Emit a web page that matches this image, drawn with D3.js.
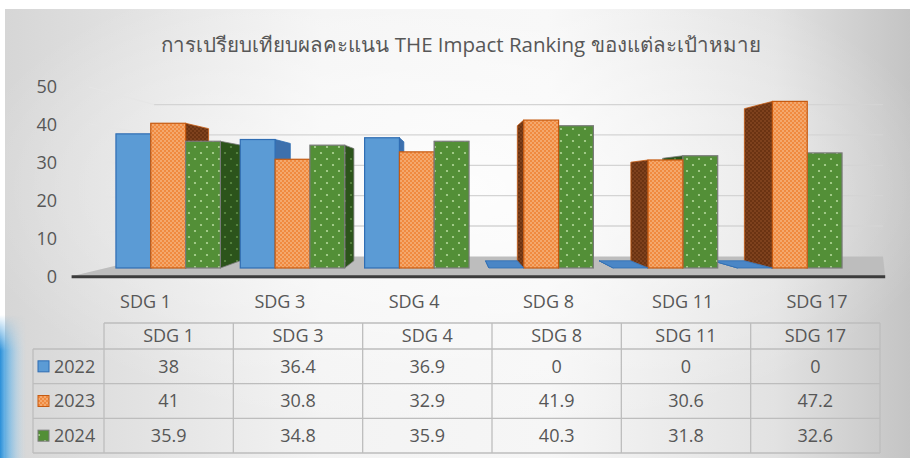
<!DOCTYPE html>
<meta charset="utf-8">
<html>
<head>
  <title>THE Impact Ranking</title>
  <style type="text/css">
    body{margin:0; background:#fff;}
    text{font-family:"Open Sans","Noto Sans",sans-serif; fill:#575757;}
  </style>
</head>
<body>
  <script src="https://cdn.jsdelivr.net/npm/d3@7"></script>
  <script>
    // data
    var categories = ['SDG 1', 'SDG 3', 'SDG 4', 'SDG 8', 'SDG 11', 'SDG 17'];
    var years = ['2022', '2023', '2024'];
    var v2022 = [38, 36.4, 36.9, 0, 0, 0];
    var v2023 = [41, 30.8, 32.9, 41.9, 30.6, 47.2];
    var v2024 = [35.9, 34.8, 35.9, 40.3, 31.8, 32.6];
    var yTicks = [0, 10, 20, 30, 40, 50];
    var title = 'การเปรียบเทียบผลคะแนน THE Impact Ranking ของแต่ละเป้าหมาย';

    var series = [v2022, v2023, v2024];

    var width = 910,
        height = 458;

    // fake 3d: everything is drawn on the front plane then pulled toward a vanishing point
    var vx = 450, vy = 185;
    var dBack = 0.087, dWall = 0.14, dFront = -0.1, dLabel = -0.08;

    function proj(px, py, d){
      return [vx + (px - vx) * (1 - d), vy + (py - vy) * (1 - d)];
    }

    var x = d3.scaleBand().domain(categories).range([106, 852]);
    var y = d3.scaleLinear().domain([0, 50]).range([268, 91.5]);
    var bw = x.bandwidth() * 0.28;

    var svg = d3.select('body')
        .append('svg')
        .attr('width', width)
        .attr('height', height);

    var defs = svg.append('defs');

    var bg = defs.append('linearGradient').attr('id', 'bg');
    bg.append('stop').attr('offset', '0%').attr('stop-color', '#d6d6d6');
    bg.append('stop').attr('offset', '35%').attr('stop-color', '#f3f3f3');
    bg.append('stop').attr('offset', '60%').attr('stop-color', '#f6f6f6');
    bg.append('stop').attr('offset', '85%').attr('stop-color', '#e2e2e2');
    bg.append('stop').attr('offset', '100%').attr('stop-color', '#c4c4c4');

    var glow = defs.append('radialGradient').attr('id', 'glow')
      .attr('cx', '50%').attr('cy', '40%').attr('r', '55%');
    glow.append('stop').attr('offset', '0%').attr('stop-color', '#fff').attr('stop-opacity', 0.8);
    glow.append('stop').attr('offset', '100%').attr('stop-color', '#fff').attr('stop-opacity', 0);

    var blueEdge = defs.append('linearGradient').attr('id', 'blueEdge');
    blueEdge.append('stop').attr('offset', '0%').attr('stop-color', '#2a8fd8').attr('stop-opacity', 1);
    blueEdge.append('stop').attr('offset', '30%').attr('stop-color', '#5fb0e6').attr('stop-opacity', 0.75);
    blueEdge.append('stop').attr('offset', '100%').attr('stop-color', '#bfe0f5').attr('stop-opacity', 0);
    var blueFade = defs.append('linearGradient').attr('id', 'blueFade')
      .attr('x1', 0).attr('y1', 0).attr('x2', 0).attr('y2', 1);
    blueFade.append('stop').attr('offset', '0%').attr('stop-color', '#fff').attr('stop-opacity', 0);
    blueFade.append('stop').attr('offset', '25%').attr('stop-color', '#fff').attr('stop-opacity', 1);
    blueFade.append('stop').attr('offset', '100%').attr('stop-color', '#fff').attr('stop-opacity', 1);
    defs.append('mask').attr('id', 'fadeMask')
      .append('rect').attr('x', 0).attr('y', 315).attr('width', 26).attr('height', 143)
      .attr('fill', 'url(#blueFade)');

    function dots(id, size, base, dot, r, pts){
      var p = defs.append('pattern').attr('id', id)
        .attr('patternUnits', 'userSpaceOnUse')
        .attr('width', size).attr('height', size);
      p.append('rect').attr('width', size).attr('height', size).attr('fill', base);
      pts.forEach(function(q){
        p.append('circle').attr('cx', q[0]).attr('cy', q[1]).attr('r', r).attr('fill', dot);
      });
    }
    dots('orFront', 4, '#f08a40', '#fbcfa6', 0.8, [[1, 1], [3, 3]]);
    dots('orSide', 4, '#6b3312', '#97532a', 0.8, [[1, 1], [3, 3]]);
    dots('grFront', 12, '#538f37', '#b2d89a', 1.1, [[3, 3], [9, 9]]);
    dots('grSide', 12, '#2c541b', '#5f8d46', 1.1, [[3, 3], [9, 9]]);

    var look = [
      {front: '#5b9bd5', side: '#3d70ad', top: '#4a86c6', stroke: '#2f6db3'},
      {front: 'url(#orFront)', side: 'url(#orSide)', top: '#e07a30', stroke: '#c55a11'},
      {front: 'url(#grFront)', side: 'url(#grSide)', top: '#3f7428', stroke: '#7a7a7a'}
    ];

    // background panel
    svg.append('rect').attr('x', 5).attr('y', 9).attr('width', width - 5).attr('height', height - 9)
      .attr('fill', 'url(#bg)');
    svg.append('rect').attr('x', 5).attr('y', 9).attr('width', width - 5).attr('height', height - 9)
      .attr('fill', 'url(#glow)');
    svg.append('rect').attr('x', 0).attr('y', 315).attr('width', 26).attr('height', 143)
      .attr('fill', 'url(#blueEdge)').attr('mask', 'url(#fadeMask)');

    svg.append('text')
      .attr('x', 461).attr('y', 45)
      .attr('dy', '0.35em')
      .attr('text-anchor', 'middle')
      .style('font-size', '20.5px')
      .text(title);

    // walls and floor
    var left = x.range()[0], right = x.range()[1];
    var wallRight = 883;
    var fl = proj(left, y(0), dFront), fr = proj(right, y(0), dFront),
        bl = proj(left, y(0), dWall);

    svg.append('polygon')
      .attr('points', [fl, [fr[0] - 7, fr[1]], [wallRight, bl[1]], bl].join(' '))
      .attr('fill', '#bdbdbd');

    // side wall lines, barely visible
    svg.selectAll('.sgrid')
      .data(yTicks.slice(1))
      .enter()
      .append('line')
      .attr('stroke', '#e6e6e6')
      .attr('stroke-width', 1)
      .attr('x1', function(d){ return proj(left, y(d), dFront + 0.05)[0]; })
      .attr('y1', function(d){ return proj(left, y(d), dFront + 0.05)[1]; })
      .attr('x2', function(d){ return proj(left, y(d), dWall)[0]; })
      .attr('y2', function(d){ return proj(left, y(d), dWall)[1]; });

    svg.selectAll('.grid')
      .data(yTicks.slice(1))
      .enter()
      .append('line')
      .attr('stroke', '#d4d4d4')
      .attr('stroke-width', 1.3)
      .attr('x1', bl[0]).attr('x2', wallRight)
      .attr('y1', function(d){ return proj(left, y(d), dWall)[1]; })
      .attr('y2', function(d){ return proj(left, y(d), dWall)[1]; });

    svg.append('line')
      .attr('x1', fl[0]).attr('y1', fl[1] + 0.5)
      .attr('x2', fr[0] - 7).attr('y2', fr[1] + 0.5)
      .attr('stroke', '#3c3c3c').attr('stroke-width', 3);

    svg.selectAll('.ylab')
      .data(yTicks)
      .enter()
      .append('text')
      .attr('x', 57)
      .attr('y', function(d){ return proj(left, y(d), dLabel)[1] + 2.5; })
      .attr('dy', '0.35em')
      .attr('text-anchor', 'end')
      .style('font-size', '18px')
      .text(function(d){ return d; });

    // bars
    var bars = [];
    categories.forEach(function(c, i){
      var x0 = x(c) + (x.bandwidth() - 3 * bw) / 2;
      series.forEach(function(s, j){
        bars.push({cat: c, s: j, v: s[i], x0: x0 + j * bw, x1: x0 + (j + 1) * bw});
      });
    });
    bars.sort(function(a, b){
      return Math.abs((b.x0 + b.x1) / 2 - vx) - Math.abs((a.x0 + a.x1) / 2 - vx);
    });

    var barG = svg.selectAll('.bar')
      .data(bars)
      .enter()
      .append('g');

    barG.each(function(d){
      var g = d3.select(this), st = look[d.s];
      var yt = y(d.v), yb = y(0);
      var ex = (d.x0 + d.x1) / 2 < vx ? d.x1 : d.x0;
      var side = [[ex, yt], proj(ex, yt, dBack), proj(ex, yb, dBack), [ex, yb]];
      g.append('polygon').attr('points', side.join(' '))
        .attr('fill', st.side).attr('stroke', st.stroke).attr('stroke-width', 0.8);
      if(yt > vy){
        var top = [[d.x0, yt], [d.x1, yt], proj(d.x1, yt, dBack), proj(d.x0, yt, dBack)];
        g.append('polygon').attr('points', top.join(' '))
          .attr('fill', st.top).attr('stroke', st.stroke).attr('stroke-width', 0.8);
      }
      if(yb - yt > 0.5){
        g.append('rect')
          .attr('x', d.x0).attr('y', yt)
          .attr('width', d.x1 - d.x0).attr('height', yb - yt)
          .attr('fill', st.front).attr('stroke', st.stroke).attr('stroke-width', 1.2);
      }
    });

    // category labels under the floor
    svg.selectAll('.xlab')
      .data(categories)
      .enter()
      .append('text')
      .attr('x', function(d){ return proj(x(d) + x.bandwidth() / 2, y(0), dLabel)[0]; })
      .attr('y', 302)
      .attr('dy', '0.35em')
      .attr('text-anchor', 'middle')
      .style('font-size', '18px')
      .text(function(d){ return d; });

    // data table
    var col = d3.scaleBand().domain(categories).range([104, 880]);
    var row = d3.scaleBand().domain(years).range([349, 453]);
    var headTop = 323, legLeft = 33;
    var tg = svg.append('g').attr('stroke', '#bdbdbd').attr('stroke-width', 1.3);

    tg.append('line').attr('x1', col.range()[0]).attr('x2', col.range()[1])
      .attr('y1', headTop).attr('y2', headTop);
    tg.selectAll('.hl')
      .data(years.concat(['end']))
      .enter()
      .append('line')
      .attr('x1', legLeft).attr('x2', col.range()[1])
      .attr('y1', function(d){ return d == 'end' ? row.range()[1] : row(d); })
      .attr('y2', function(d){ return d == 'end' ? row.range()[1] : row(d); });
    tg.selectAll('.vl')
      .data(categories.concat(['end']))
      .enter()
      .append('line')
      .attr('x1', function(d){ return d == 'end' ? col.range()[1] : col(d); })
      .attr('x2', function(d){ return d == 'end' ? col.range()[1] : col(d); })
      .attr('y1', headTop).attr('y2', row.range()[1]);
    tg.append('line').attr('x1', legLeft).attr('x2', legLeft)
      .attr('y1', row.range()[0]).attr('y2', row.range()[1]);

    svg.selectAll('.head')
      .data(categories)
      .enter()
      .append('text')
      .attr('x', function(d){ return col(d) + col.bandwidth() / 2; })
      .attr('y', (headTop + row.range()[0]) / 2)
      .attr('dy', '0.35em')
      .attr('text-anchor', 'middle')
      .style('font-size', '18px')
      .text(function(d){ return d; });

    years.forEach(function(yr, j){
      var cy = row(yr) + row.bandwidth() / 2;
      svg.append('rect')
        .attr('x', 38).attr('y', cy - 5.5).attr('width', 11).attr('height', 11)
        .attr('fill', look[j].front).attr('stroke', look[j].stroke).attr('stroke-width', 1);
      svg.append('text')
        .attr('x', 54).attr('y', cy).attr('dy', '0.35em')
        .style('font-size', '18px')
        .text(yr);
      svg.selectAll('.val' + j)
        .data(series[j])
        .enter()
        .append('text')
        .attr('x', function(d, i){ return col(categories[i]) + col.bandwidth() / 2; })
        .attr('y', cy)
        .attr('dy', '0.35em')
        .attr('text-anchor', 'middle')
        .style('font-size', '18px')
        .text(function(d){ return d; });
    });
  </script>
</body>
</html>
